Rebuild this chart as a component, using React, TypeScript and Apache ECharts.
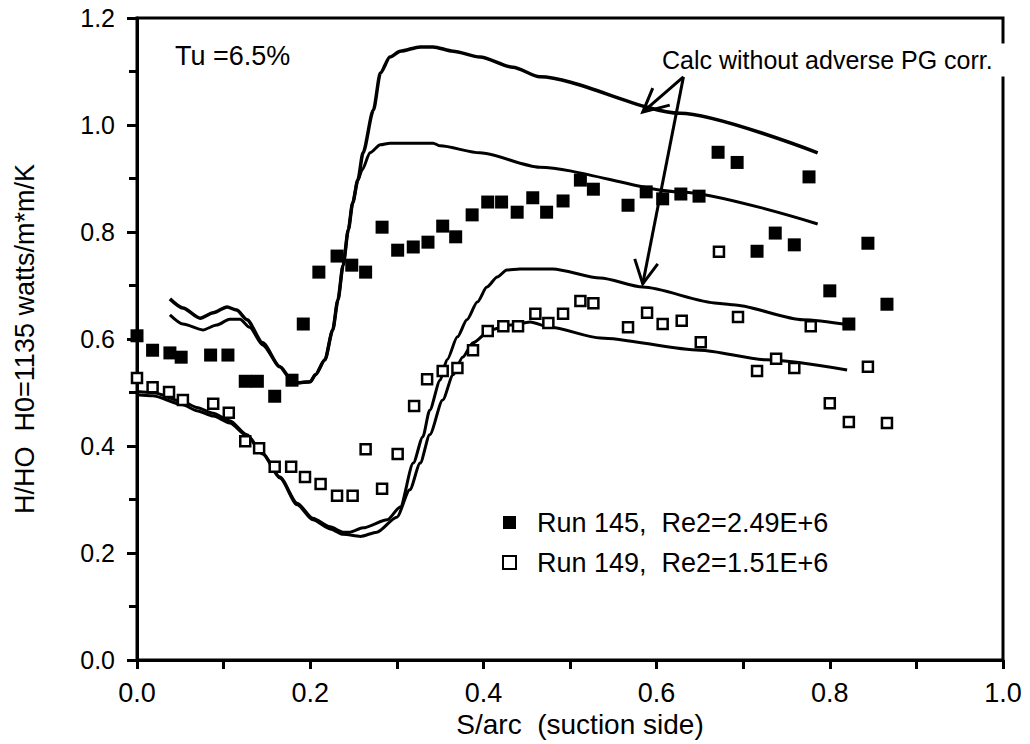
import React, { useEffect, useRef } from "react";
import * as echarts from "echarts";

// Run 145 (filled squares): [S/arc, H/H0]
const run145: [number, number][] = [
  [0.0, 0.606], [0.018, 0.579], [0.038, 0.574], [0.051, 0.566], [0.085, 0.57], [0.105, 0.57],
  [0.125, 0.521], [0.139, 0.521], [0.159, 0.493], [0.179, 0.523], [0.192, 0.628], [0.21, 0.725],
  [0.231, 0.755], [0.248, 0.738], [0.264, 0.725], [0.283, 0.809], [0.301, 0.766], [0.319, 0.772],
  [0.336, 0.781], [0.353, 0.811], [0.368, 0.791], [0.387, 0.832], [0.405, 0.856], [0.421, 0.856],
  [0.439, 0.837], [0.457, 0.864], [0.473, 0.837], [0.492, 0.858], [0.512, 0.897], [0.527, 0.88],
  [0.567, 0.85], [0.588, 0.875], [0.607, 0.862], [0.628, 0.871], [0.649, 0.867], [0.671, 0.949],
  [0.693, 0.93], [0.716, 0.764], [0.737, 0.798], [0.759, 0.776], [0.776, 0.903], [0.8, 0.69],
  [0.822, 0.628], [0.844, 0.779], [0.866, 0.665],
];

// Run 149 (open squares)
const run149: [number, number][] = [
  [0.0, 0.527], [0.018, 0.51], [0.037, 0.501], [0.053, 0.486], [0.088, 0.479], [0.106, 0.462],
  [0.125, 0.409], [0.141, 0.396], [0.159, 0.361], [0.178, 0.361], [0.194, 0.342], [0.212, 0.329],
  [0.231, 0.307], [0.249, 0.307], [0.264, 0.394], [0.283, 0.32], [0.301, 0.385], [0.32, 0.475],
  [0.335, 0.525], [0.353, 0.54], [0.37, 0.546], [0.388, 0.579], [0.405, 0.615], [0.423, 0.624],
  [0.44, 0.624], [0.46, 0.647], [0.475, 0.63], [0.492, 0.647], [0.512, 0.671], [0.527, 0.667],
  [0.567, 0.622], [0.589, 0.649], [0.607, 0.628], [0.629, 0.634], [0.651, 0.594], [0.672, 0.763],
  [0.694, 0.641], [0.716, 0.54], [0.738, 0.563], [0.759, 0.546], [0.778, 0.624], [0.8, 0.48],
  [0.822, 0.445], [0.844, 0.548], [0.866, 0.443],
];

// Calculation curves
const calcA: [number, number][] = [
  [0.038, 0.675], [0.053, 0.658], [0.073, 0.639], [0.088, 0.649], [0.104, 0.66], [0.115, 0.654],
  [0.127, 0.636], [0.145, 0.593], [0.165, 0.548], [0.177, 0.527], [0.185, 0.518], [0.2, 0.52],
  [0.206, 0.533], [0.217, 0.561], [0.226, 0.617], [0.232, 0.673], [0.238, 0.738], [0.244, 0.804],
  [0.249, 0.854], [0.255, 0.897], [0.261, 0.948], [0.273, 1.028], [0.281, 1.097], [0.292, 1.127],
  [0.304, 1.138], [0.327, 1.146], [0.342, 1.146], [0.365, 1.138], [0.396, 1.127], [0.434, 1.108],
  [0.465, 1.09], [0.627, 1.022], [0.786, 0.948],
];
const calcB: [number, number][] = [
  [0.038, 0.645], [0.053, 0.628], [0.076, 0.617], [0.092, 0.626], [0.107, 0.637], [0.119, 0.637],
  [0.13, 0.622], [0.145, 0.589], [0.165, 0.548], [0.177, 0.527], [0.185, 0.518], [0.2, 0.52],
  [0.206, 0.533], [0.217, 0.561], [0.226, 0.617], [0.232, 0.673], [0.238, 0.738], [0.244, 0.804],
  [0.249, 0.854], [0.255, 0.897], [0.26, 0.916], [0.269, 0.948], [0.281, 0.963], [0.292, 0.966],
  [0.342, 0.966], [0.35, 0.961], [0.396, 0.948], [0.465, 0.921], [0.627, 0.875], [0.786, 0.815],
];
const calcC: [number, number][] = [
  [0.0, 0.502], [0.018, 0.5], [0.053, 0.483], [0.069, 0.472], [0.088, 0.461], [0.107, 0.447],
  [0.127, 0.421], [0.145, 0.387], [0.165, 0.342], [0.185, 0.293], [0.203, 0.265], [0.223, 0.249],
  [0.238, 0.239], [0.246, 0.239], [0.261, 0.247], [0.289, 0.262], [0.304, 0.286], [0.319, 0.368],
  [0.33, 0.417], [0.338, 0.467], [0.35, 0.523], [0.358, 0.561], [0.37, 0.604], [0.381, 0.636],
  [0.393, 0.669], [0.404, 0.697], [0.416, 0.716], [0.427, 0.729], [0.442, 0.731], [0.48, 0.731],
  [0.535, 0.714], [0.584, 0.697], [0.67, 0.667], [0.688, 0.664], [0.769, 0.636], [0.823, 0.626],
];
const calcD: [number, number][] = [
  [0.0, 0.496], [0.018, 0.494], [0.053, 0.477], [0.069, 0.466], [0.088, 0.456], [0.107, 0.443],
  [0.127, 0.419], [0.145, 0.385], [0.165, 0.34], [0.185, 0.29], [0.203, 0.262], [0.223, 0.245],
  [0.238, 0.235], [0.258, 0.231], [0.277, 0.239], [0.3, 0.267], [0.315, 0.318], [0.327, 0.368],
  [0.338, 0.421], [0.353, 0.486], [0.365, 0.533], [0.376, 0.566], [0.388, 0.593], [0.408, 0.617],
  [0.431, 0.626], [0.454, 0.632], [0.477, 0.622], [0.535, 0.602], [0.65, 0.579], [0.727, 0.561],
  [0.82, 0.542],
];

const xTicks = [0, 0.2, 0.4, 0.6, 0.8, 1.0];
const yTicks = [0, 0.2, 0.4, 0.6, 0.8, 1.0, 1.2];

const legend145 = "Run 145,  Re2=2.49E+6";
const legend149 = "Run 149,  Re2=1.51E+6";
const tuLabel = "Tu =6.5%";
const calcLabel = "Calc without adverse PG corr.";
const xName = "S/arc  (suction side)";
const yName = "H/HO  H0=1135 watts/m*m/K";

// annotation anchors in data coordinates
const arrowFrom: [number, number] = [0.631, 1.09];
const arrowTo1: [number, number] = [0.584, 1.024];
const arrowTo2: [number, number] = [0.584, 0.703];

const FONT = "'Liberation Sans', Arial, Helvetica, sans-serif";

export default function App() {
  const ref = useRef<HTMLDivElement>(null);
  useEffect(() => {
    const chart = echarts.init(ref.current!, null, { renderer: "svg" });
    const lineSeries = (data: [number, number][], w: number) => ({
      type: "line",
      data,
      showSymbol: false,
      symbol: "none",
      smooth: 0.25,
      smoothMonotone: "x",
      lineStyle: { color: "#000", width: w, opacity: 1 },
      silent: true,
      z: 2,
    });
    chart.setOption({
      animation: false,
      backgroundColor: "#fff",
      textStyle: { fontFamily: FONT, color: "#000" },
      grid: {
        left: 137, right: 27, top: 18, bottom: 84,
        show: true, borderColor: "#000", borderWidth: 3,
      },
      xAxis: {
        type: "value", min: 0, max: 1, interval: 0.2,
        name: xName, nameLocation: "middle", nameGap: 50,
        nameTextStyle: { fontSize: 28, color: "#000", fontFamily: FONT, padding: [0, 0, 0, 20] },
        axisLine: { show: true, lineStyle: { color: "#000", width: 3 } },
        axisTick: { show: true, inside: false, length: 9, lineStyle: { color: "#000", width: 3 } },
        minorTick: { show: true, splitNumber: 2, length: 9, lineStyle: { color: "#000", width: 3 } },
        splitLine: { show: false },
        axisLabel: {
          fontSize: 27, color: "#000", margin: 19, fontFamily: FONT,
          formatter: (v: number) => (xTicks.some((t) => Math.abs(t - v) < 1e-6) ? v.toFixed(1) : ""),
        },
      },
      yAxis: {
        type: "value", min: 0, max: 1.2, interval: 0.2,
        name: yName, nameLocation: "middle", nameGap: 99, nameRotate: 90,
        nameTextStyle: { fontSize: 27, color: "#000", fontFamily: FONT },
        axisLine: { show: true, lineStyle: { color: "#000", width: 3 } },
        axisTick: { show: true, inside: false, length: 10, lineStyle: { color: "#000", width: 3 } },
        minorTick: { show: true, splitNumber: 2, length: 8, lineStyle: { color: "#000", width: 3 } },
        splitLine: { show: false },
        axisLabel: {
          fontSize: 25, color: "#000", margin: 22, fontFamily: FONT,
          formatter: (v: number) => (yTicks.some((t) => Math.abs(t - v) < 1e-6) ? v.toFixed(1) : ""),
        },
      },
      legend: {
        show: true,
        orient: "vertical",
        left: 502,
        top: 509,
        padding: 0,
        itemGap: 13,
        itemWidth: 13,
        itemHeight: 13,
        data: [legend145, legend149],
        textStyle: { fontSize: 27, color: "#000", fontFamily: FONT, padding: [0, 0, 0, 16] },
        selectedMode: false,
      },
      series: [
        lineSeries(calcA, 3.5),
        lineSeries(calcB, 3),
        lineSeries(calcC, 3),
        lineSeries(calcD, 3),
        {
          name: legend145,
          type: "scatter",
          data: run145,
          symbol: "rect",
          symbolSize: 13,
          itemStyle: { color: "#000", opacity: 1 },
          z: 3,
        },
        {
          name: legend149,
          type: "scatter",
          data: run149,
          symbol: "rect",
          symbolSize: 10,
          itemStyle: { color: "#fff", borderColor: "#000", borderWidth: 2.5, opacity: 1 },
          z: 3,
        },
      ],
    });

    const p = (d: [number, number]) => chart.convertToPixel({ gridIndex: 0 }, d) as number[];
    const s = p(arrowFrom);
    const e1 = p(arrowTo1);
    const e2 = p(arrowTo2);
    const stroke = { stroke: "#000", lineWidth: 3, fill: "none" };
    chart.setOption({
      graphic: [
        {
          type: "text", left: 175, top: 42, z: 100,
          style: { text: tuLabel, font: `27px ${FONT}`, fill: "#000" },
        },
        {
          type: "text", x: 662, y: 60, z: 100,
          style: {
            text: calcLabel, font: `25px ${FONT}`, fill: "#000",
            verticalAlign: "middle", align: "left",
            backgroundColor: "#fff", padding: [4, 20, 4, 0],
          },
        },
        { type: "line", z: 100, shape: { x1: s[0], y1: s[1], x2: e1[0], y2: e1[1] }, style: stroke },
        { type: "line", z: 100, shape: { x1: s[0], y1: s[1], x2: e2[0], y2: e2[1] }, style: stroke },
        {
          type: "polyline", z: 100,
          shape: { points: [[e1[0] + 10, e1[1] - 24], [e1[0], e1[1]], [e1[0] + 27, e1[1] - 7]] },
          style: stroke,
        },
        {
          type: "polyline", z: 100,
          shape: { points: [[e2[0] - 8, e2[1] - 25], [e2[0], e2[1]], [e2[0] + 15, e2[1] - 20]] },
          style: stroke,
        },
      ],
    });
    return () => chart.dispose();
  }, []);
  return <div ref={ref} style={{ position: "fixed", left: 0, top: 0, width: 1030, height: 744 }} />;
}
